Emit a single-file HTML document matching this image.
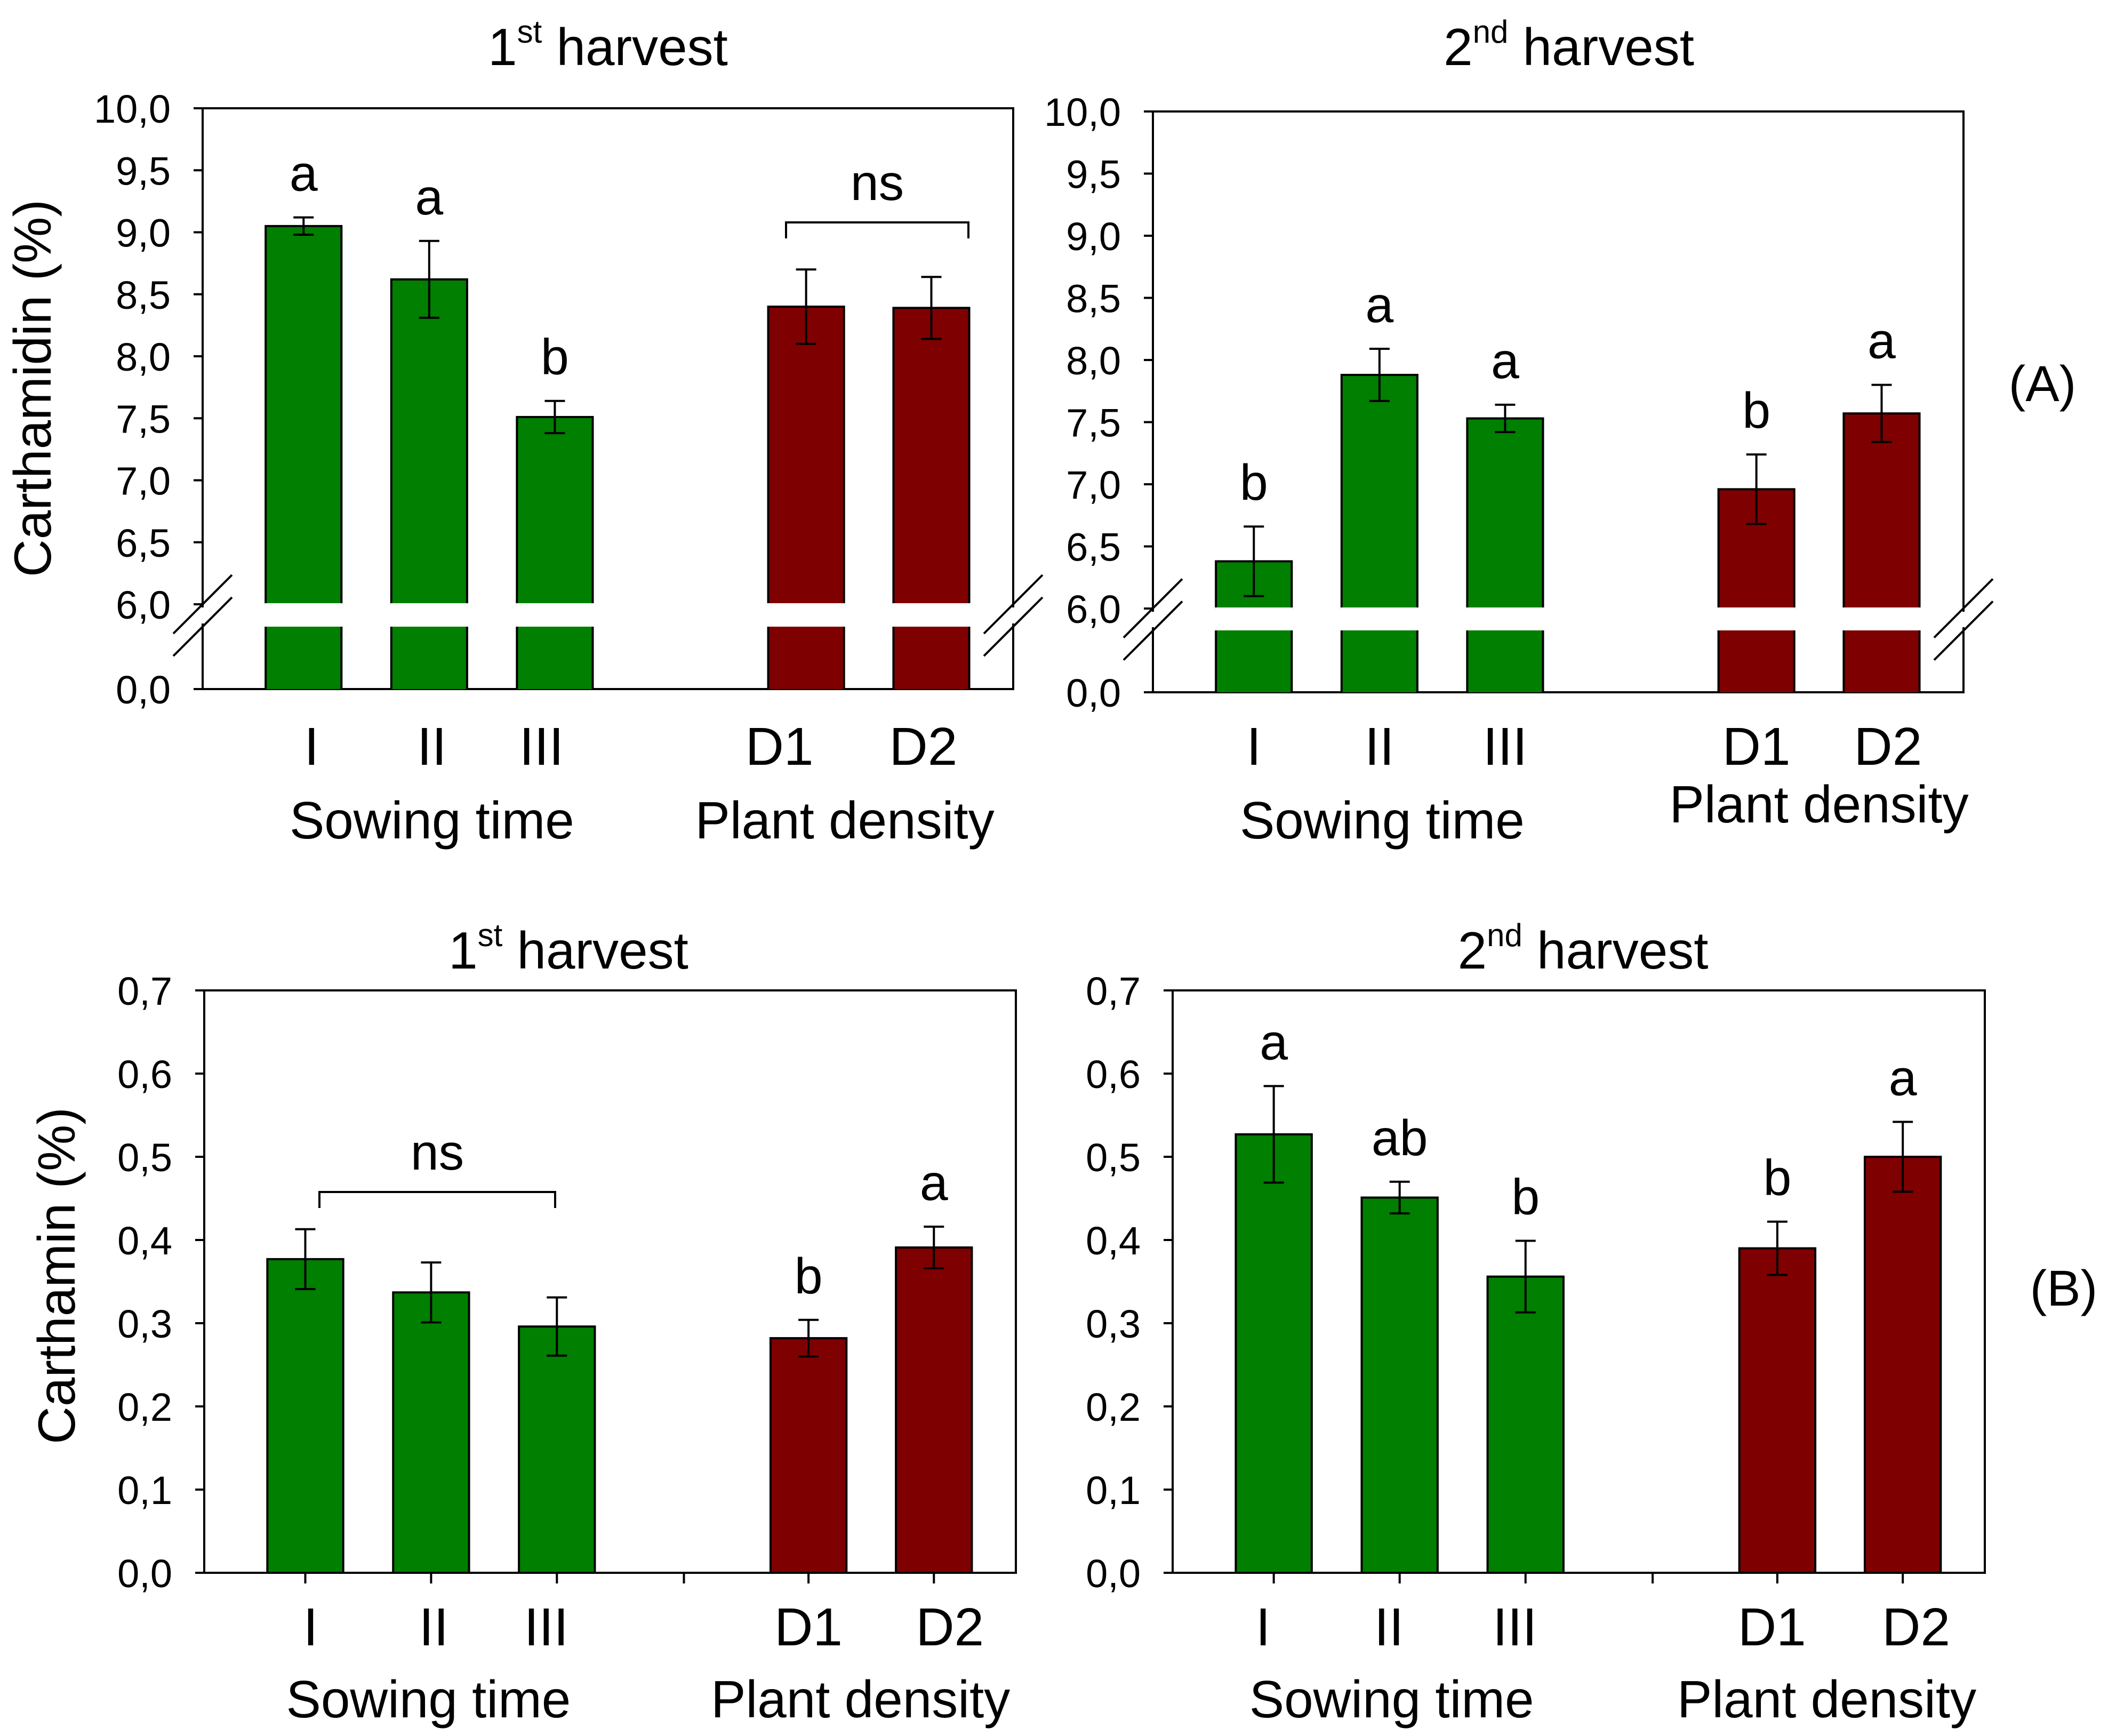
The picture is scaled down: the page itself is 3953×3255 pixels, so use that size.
<!DOCTYPE html>
<html><head><meta charset="utf-8"><style>
html,body{margin:0;padding:0;background:#fff;}
svg{display:block;font-family:"Liberation Sans",Arial,sans-serif;}
</style></head><body>
<svg id="fig" width="3953" height="3255" viewBox="0 0 3953 3255" xmlns="http://www.w3.org/2000/svg">
<rect width="3953" height="3255" fill="#fff"/>
<text transform="translate(95,728) rotate(-90)" font-size="98" text-anchor="middle">Carthamidin (%)</text>
<text transform="translate(140,2392) rotate(-90)" font-size="98" text-anchor="middle">Carthamin (%)</text>
<text x="3830" y="752" font-size="95" text-anchor="middle">(A)</text>
<text x="3870" y="2448" font-size="95" text-anchor="middle">(B)</text>
</svg>
<script>
const categories = ["I","II","III","D1","D2"];
const letterGroups = ["Sowing time","Plant density"];
const a1Values = [9.05, 8.62, 7.51, 8.40, 8.39];
const a1Errors = [0.07, 0.31, 0.13, 0.30, 0.25];
const a1Letters = ["a","a","b","",""];
const a2Values = [6.38, 7.88, 7.53, 6.96, 7.57];
const a2Errors = [0.28, 0.21, 0.11, 0.28, 0.23];
const a2Letters = ["b","a","a","b","a"];
const b1Values = [0.377, 0.337, 0.296, 0.282, 0.391];
const b1Errors = [0.036, 0.036, 0.035, 0.022, 0.025];
const b1Letters = ["","","","b","a"];
const b2Values = [0.527, 0.451, 0.356, 0.390, 0.500];
const b2Errors = [0.058, 0.019, 0.043, 0.032, 0.042];
const b2Letters = ["a","ab","b","b","a"];
const aTickLabels = ["6,0","6,5","7,0","7,5","8,0","8,5","9,0","9,5","10,0"];
const aTickValues = [6.0,6.5,7.0,7.5,8.0,8.5,9.0,9.5,10.0];
const bTickLabels = ["0,0","0,1","0,2","0,3","0,4","0,5","0,6","0,7"];
const bTickValues = [0,0.1,0.2,0.3,0.4,0.5,0.6,0.7];

const svg = document.getElementById('fig');
const NS = "http://www.w3.org/2000/svg";
const GREEN = "#007f00", RED = "#7f0000";
const SLOT = [0.1245, 0.2795, 0.4345, 0.7445, 0.8990];
function mk(tag, attrs, parent){
  const e = document.createElementNS(NS, tag);
  for (const k in attrs) e.setAttribute(k, attrs[k]);
  (parent || svg).appendChild(e);
  return e;
}
function txt(s, x, y, size, anchor, parent){
  const t = mk('text', {x:x, y:y, 'font-size':size, 'text-anchor':anchor||'middle'}, parent);
  t.textContent = s;
  return t;
}

function panel(cfg){
  const g = mk('g', {});
  
  
  const L = cfg.left, R = cfg.right, T = cfg.top, B = cfg.bottom;
  const W = R - L;
  const xc = i => L + SLOT[i]*W;
  const bw = 0.0935*W;
  let yOf;
  if (cfg.broken) {
    yOf = v => cfg.sixY - (v - 6)*(cfg.sixY - T)/4;
  } else {
    yOf = v => B - v*(B - T)/0.7;
  }
  const frame = mk('rect', {x:L, y:T, width:W, height:B-T, fill:'none', stroke:'#000', 'stroke-width':4}, g);
  
  
  for (let i=0;i<cfg.values.length;i++){
    const v = cfg.values[i], col = i<3?GREEN:RED;
    const x0 = xc(i) - bw/2;
    if (cfg.broken){
      const top = yOf(v);
      const b1 = mk('rect', {x:x0, y:top, width:bw, height:cfg.sixY-top, fill:col, stroke:'#000','stroke-width':4}, g);
      
      
      mk('rect', {x:x0-2, y:cfg.sixY-2, width:bw+4, height:cfg.lowTop-cfg.sixY+4, fill:'#fff'}, g);
      mk('rect', {x:x0+2, y:cfg.sixY-8, width:bw-4, height:6, fill:col}, g);
      const b2 = mk('rect', {x:x0, y:cfg.lowTop, width:bw, height:B-cfg.lowTop, fill:col}, g);
      
      
      mk('line', {x1:x0, y1:cfg.lowTop, x2:x0, y2:B, stroke:'#000','stroke-width':4}, g);
      mk('line', {x1:x0+bw, y1:cfg.lowTop, x2:x0+bw, y2:B, stroke:'#000','stroke-width':4}, g);
    } else {
      const top = yOf(v);
      const b1 = mk('rect', {x:x0, y:top, width:bw, height:B-top, fill:col, stroke:'#000','stroke-width':4}, g);
      
      
    }
    const e = cfg.errors[i];
    const yt = yOf(v+e), yb = yOf(v-e), cx = xc(i);
    const eg = mk('g', {stroke:'#000','stroke-width':4}, g);
    
    
    mk('line', {x1:cx, y1:yt, x2:cx, y2:yb}, eg);
    mk('line', {x1:cx-19, y1:yt, x2:cx+19, y2:yt}, eg);
    mk('line', {x1:cx-19, y1:yb, x2:cx+19, y2:yb}, eg);
    if (cfg.letters[i]){
      const lt = txt(cfg.letters[i], cx, yt-50, 95, 'middle', g);
      
      
    }
    const cl = txt(categories[i], cx + cfg.catDx[i], cfg.catY, 100, 'middle', g);
    
    
    if (cfg.xticks) mk('line', {x1:cx, y1:B, x2:cx, y2:B+20, stroke:'#000','stroke-width':4}, g);
  }
  if (cfg.xticks) mk('line', {x1:L+0.591*W, y1:B, x2:L+0.591*W, y2:B+20, stroke:'#000','stroke-width':4}, g);
  for (let k=0;k<cfg.tickValues.length;k++){
    const y = yOf(cfg.tickValues[k]);
    mk('line', {x1:L-17, y1:y, x2:L, y2:y, stroke:'#000','stroke-width':4}, g);
    const tl = txt(cfg.tickLabels[k], L-60, y+27, 74, 'end', g);
    
    
  }
  if (cfg.broken){
    mk('line', {x1:L-17, y1:B, x2:L, y2:B, stroke:'#000','stroke-width':4}, g);
    const z = txt('0,0', L-60, B+27, 74, 'end', g);
    
    
    [L, R].forEach(ax=>{
      const mid = (cfg.sixY + cfg.lowTop)/2;
      mk('rect', {x:ax-6, y:cfg.sixY+6, width:12, height:cfg.lowTop-cfg.sixY-12, fill:'#fff'}, g);
      const bm = mk('g', {stroke:'#000','stroke-width':4}, g);
      
      
      mk('line', {x1:ax-55, y1:mid+34, x2:ax+55, y2:mid-76}, bm);
      mk('line', {x1:ax-55, y1:mid+76, x2:ax+55, y2:mid-34}, bm);
    });
  }
  const s1 = txt(letterGroups[0], xc(1) + cfg.sowDx, cfg.sowY, 98, 'middle', g);
  
  
  const s2 = txt(letterGroups[1], (xc(3)+xc(4))/2 + cfg.plantDx, cfg.plantY, 98, 'middle', g);
  
  
  const t = mk('text', {x:(L+R)/2 + cfg.titleDx, y:cfg.titleY, 'font-size':98, 'text-anchor':'middle'}, g);
  
  
  const t1 = mk('tspan', {}, t); t1.textContent = cfg.title[0];
  const t2 = mk('tspan', {'font-size':60, dy:-42}, t); t2.textContent = cfg.title[1];
  const t3 = mk('tspan', {dy:42}, t); t3.textContent = " harvest";
  if (cfg.ns){
    const [x0,x1,yb,yt] = cfg.ns;
    const ng = mk('g', {}, g);
    
    
    mk('polyline', {points:`${x0},${yt} ${x0},${yb} ${x1},${yb} ${x1},${yt}`, fill:'none', stroke:'#000','stroke-width':4}, ng);
    txt('ns', (x0+x1)/2, yb-42, 95, 'middle', ng);
  }
}

panel({name:'panel-a1-carthamidin-1st-harvest', left:380, right:1900, top:203, bottom:1292, sixY:1133, lowTop:1175, broken:true,
  values:a1Values, errors:a1Errors, letters:a1Letters, tickValues:aTickValues, tickLabels:aTickLabels,
  catDx:[15,5,-25,-50,-15], sowDx:5, plantDx:-45,
  catY:1434, sowY:1572, plantY:1572, title:["1","st"], titleY:122, titleDx:0, ns:[1474,1816,417,447]});
panel({name:'panel-a2-carthamidin-2nd-harvest', left:2162, right:3682, top:209, bottom:1298, sixY:1141, lowTop:1182, broken:true,
  values:a2Values, errors:a2Errors, letters:a2Letters, tickValues:aTickValues, tickLabels:aTickLabels,
  catDx:[0,0,0,0,12], sowDx:5, plantDx:0,
  catY:1434, sowY:1572, plantY:1542, title:["2","nd"], titleY:122, titleDx:20});
panel({name:'panel-b1-carthamin-1st-harvest', left:383, right:1905, top:1857, bottom:2949, broken:false, xticks:true,
  values:b1Values, errors:b1Errors, letters:b1Letters, tickValues:bTickValues, tickLabels:bTickLabels,
  catDx:[10,5,-20,0,30], sowDx:-5, plantDx:-20,
  catY:3085, sowY:3220, plantY:3220, title:["1","st"], titleY:1816, titleDx:-78, ns:[599,1041,2235,2265]});
panel({name:'panel-b2-carthamin-2nd-harvest', left:2199, right:3722, top:1857, bottom:2949, broken:false, xticks:true,
  values:b2Values, errors:b2Errors, letters:b2Letters, tickValues:bTickValues, tickLabels:bTickLabels,
  catDx:[-20,-20,-20,-10,25], sowDx:-15, plantDx:-25,
  catY:3085, sowY:3220, plantY:3220, title:["2","nd"], titleY:1816, titleDx:8});
</script>
</body></html>
